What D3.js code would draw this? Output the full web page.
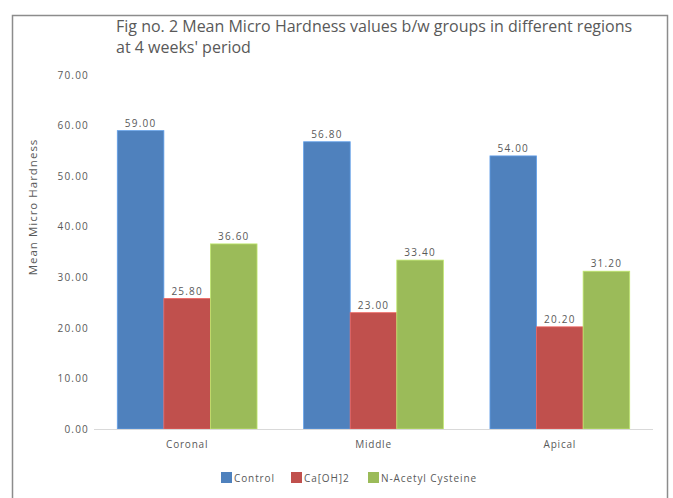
<!DOCTYPE html>
<html><head><meta charset="utf-8">
<script src="https://cdn.jsdelivr.net/npm/d3@7"></script>
<style>body{margin:0;background:#fff}svg{display:block}</style>
</head><body>
<svg id="c" width="673" height="498"></svg>
<script>
const categories = ["Coronal", "Middle", "Apical"];
const seriesNames = ["Control", "Ca(OH)2", "N-Acetyl Cysteine"];
const legendLabels = ["Control", "Ca[OH]2", "N-Acetyl Cysteine"];
const controlValues = [59.00, 56.80, 54.00];
const caohValues = [25.80, 23.00, 20.20];
const nacValues = [36.60, 33.40, 31.20];
const yTicks = [0, 10, 20, 30, 40, 50, 60, 70];
const colors = ["#4F81BD", "#C0504D", "#9BBB59"];
const titleLines = ["Fig no. 2 Mean Micro Hardness values b/w groups in different regions", "at 4 weeks' period"];

const seriesValues = [controlValues, caohValues, nacValues];
const svg = d3.select("#c");
const font = "'Open Sans', 'Liberation Sans', sans-serif";
const grey = "#595959";
const ls = "1px";

// outer frame
svg.append("rect").attr("x", 12.5).attr("y", 15.5).attr("width", 655).attr("height", 500)
  .attr("fill", "none").attr("stroke", "#8c8c8c").attr("stroke-width", 1.5);

const x = d3.scaleBand().domain(categories).range([94, 653]).paddingInner(0.25).paddingOuter(0.125);
const xs = d3.scaleBand().domain(seriesNames).range([0, x.bandwidth()]).padding(0);
const y = d3.scaleLinear().domain([0, 70]).range([429, 75]);

// title
const t = svg.append("text").attr("font-family", font).attr("font-size", 16).attr("fill", grey);
titleLines.forEach((l, i) => t.append("tspan").attr("x", 116).attr("y", 32 + i * 21).text(l));

// y axis (labels only)
const yAxis = d3.axisLeft(y).tickValues(yTicks).tickFormat(d3.format(".2f")).tickSize(0).tickPadding(0);
const ya = svg.append("g").attr("transform", "translate(89,0)").call(yAxis);
ya.select(".domain").remove();
ya.selectAll("text").attr("font-family", font).attr("font-size", 10).attr("fill", grey).style("letter-spacing", "1.2px");

// y title
svg.append("text").attr("transform", "translate(37,207) rotate(-90)").attr("text-anchor", "middle")
  .attr("font-family", font).attr("font-size", 11.5).attr("fill", grey).style("letter-spacing", "1px").text("Mean Micro Hardness");

// bars
const groups = svg.selectAll("g.cat").data(categories).join("g").attr("class", "cat")
  .attr("transform", d => `translate(${x(d)},0)`);
groups.each(function(cat, ci) {
  const g = d3.select(this);
  seriesNames.forEach((s, si) => {
    const v = seriesValues[si][ci];
    g.append("rect").attr("x", xs(s)).attr("y", y(v)).attr("width", xs.bandwidth()).attr("height", y(0) - y(v))
      .attr("fill", colors[si]).attr("stroke", d3.color(colors[si]).brighter(0.6)).attr("stroke-width", 0.8);
    g.append("text").attr("x", xs(s) + xs.bandwidth() / 2).attr("y", y(v) - 4).attr("text-anchor", "middle")
      .attr("font-family", font).attr("font-size", 10).attr("fill", grey).style("letter-spacing", "1.2px")
      .text(d3.format(".2f")(v));
  });
});

// baseline
svg.append("line").attr("x1", 94).attr("x2", 653).attr("y1", y(0) + 0.5).attr("y2", y(0) + 0.5)
  .attr("stroke", "#d9d9d9").attr("stroke-width", 1);

// x axis labels
const xAxis = d3.axisBottom(x).tickSize(0).tickPadding(0);
const xa = svg.append("g").attr("transform", `translate(0,${y(0) + 12})`).call(xAxis);
xa.select(".domain").remove();
xa.selectAll("text").attr("font-family", font).attr("font-size", 10).attr("fill", grey).style("letter-spacing", "0.8px");

// legend
const legendX = [221, 291, 368];
legendLabels.forEach((l, i) => {
  svg.append("rect").attr("x", legendX[i]).attr("y", 472).attr("width", 11).attr("height", 11).attr("fill", colors[i]);
  svg.append("text").attr("x", legendX[i] + 13).attr("y", 481.5).attr("font-family", font).attr("font-size", 10)
    .attr("fill", grey).style("letter-spacing", "0.9px").text(l);
});
</script>
</body></html>
